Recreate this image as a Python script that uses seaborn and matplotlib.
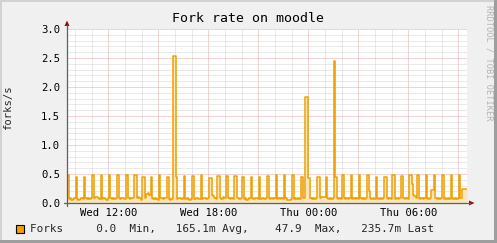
import numpy as np
import pandas as pd
import matplotlib
matplotlib.use("Agg")
import matplotlib.pyplot as plt
import matplotlib.dates as mdates
import matplotlib.ticker as mticker
from matplotlib.patches import Rectangle, Polygon
from matplotlib.lines import Line2D
import seaborn as sns

# ---------------- data ----------------
title = "Fork rate on moodle"
y_label = "forks/s"
series_name = "Forks"
legend_text = "Forks     0.0  Min,   165.1m Avg,    47.9  Max,   235.7m Last"
side_text = "RRDTOOL / TOBI OETIKER"
y_ticks = [0.0, 0.5, 1.0, 1.5, 2.0, 2.5, 3.0]
x_label_hours = [0, 6, 12, 18]
series_start = "2024-01-03 09:32"   # a Wednesday
window_start = "2024-01-03 09:31"
window_end = "2024-01-04 09:31"
sample_step = "5min"

# forks/s, 5-minute samples, one row per half hour
forks_per_s = [
    [0.49, 0.07, 0.08, 0.06, 0.07, 0.08],
    [0.45, 0.07, 0.05, 0.07, 0.08, 0.07],
    [0.45, 0.08, 0.07, 0.08, 0.07, 0.08],
    [0.48, 0.08, 0.10, 0.10, 0.08, 0.07],
    [0.49, 0.07, 0.08, 0.07, 0.06, 0.08],
    [0.48, 0.08, 0.07, 0.08, 0.07, 0.08],
    [0.49, 0.08, 0.07, 0.08, 0.08, 0.07],
    [0.48, 0.48, 0.08, 0.07, 0.08, 0.08],
    [0.48, 0.48, 0.08, 0.10, 0.08, 0.05],
    [0.45, 0.45, 0.08, 0.15, 0.17, 0.13],
    [0.45, 0.08, 0.07, 0.08, 0.07, 0.06],
    [0.49, 0.08, 0.08, 0.07, 0.08, 0.08],
    [0.45, 0.07, 0.05, 0.07, 2.53, 2.53],
    [0.45, 0.07, 0.08, 0.08, 0.07, 0.08],
    [0.47, 0.07, 0.08, 0.07, 0.06, 0.07],
    [0.47, 0.07, 0.07, 0.08, 0.07, 0.07],
    [0.48, 0.07, 0.08, 0.08, 0.07, 0.08],
    [0.43, 0.43, 0.13, 0.12, 0.08, 0.07],
    [0.47, 0.47, 0.08, 0.07, 0.10, 0.08],
    [0.47, 0.47, 0.08, 0.07, 0.08, 0.07],
    [0.47, 0.47, 0.08, 0.08, 0.07, 0.08],
    [0.45, 0.07, 0.08, 0.05, 0.07, 0.08],
    [0.45, 0.08, 0.07, 0.08, 0.08, 0.07],
    [0.45, 0.07, 0.08, 0.08, 0.07, 0.08],
    [0.46, 0.08, 0.07, 0.08, 0.07, 0.08],
    [0.48, 0.07, 0.08, 0.07, 0.08, 0.07],
    [0.48, 0.08, 0.06, 0.05, 0.06, 0.07],
    [0.48, 0.07, 0.08, 0.07, 0.08, 0.07],
    [0.45, 0.45, 0.08, 1.82, 1.82, 0.43],
    [0.43, 0.08, 0.07, 0.08, 0.07, 0.08],
    [0.44, 0.44, 0.08, 0.10, 0.10, 0.10],
    [0.44, 0.08, 0.07, 0.08, 0.07, 0.08],
    [2.45, 0.45, 0.08, 0.07, 0.08, 0.07],
    [0.48, 0.08, 0.07, 0.08, 0.07, 0.08],
    [0.49, 0.07, 0.08, 0.07, 0.08, 0.07],
    [0.49, 0.08, 0.07, 0.08, 0.07, 0.08],
    [0.49, 0.20, 0.08, 0.07, 0.08, 0.07],
    [0.45, 0.08, 0.07, 0.08, 0.07, 0.08],
    [0.45, 0.45, 0.08, 0.07, 0.08, 0.07],
    [0.48, 0.48, 0.07, 0.08, 0.07, 0.08],
    [0.46, 0.46, 0.08, 0.07, 0.08, 0.07],
    [0.48, 0.48, 0.32, 0.14, 0.12, 0.08],
    [0.48, 0.08, 0.07, 0.08, 0.07, 0.08],
    [0.48, 0.08, 0.07, 0.08, 0.22, 0.22],
    [0.48, 0.08, 0.07, 0.08, 0.07, 0.08],
    [0.48, 0.07, 0.08, 0.07, 0.08, 0.07],
    [0.48, 0.08, 0.07, 0.08, 0.07, 0.08],
    [0.48, 0.08, 0.236, 0.236, 0.236, 0.2357],
]

# ---------------- style ----------------
LINE = "#F0A000"
FILL = "#FCE6BC"
BG = "#F0F0F0"
GRID_MAJ = "#E6A8A8"
GRID_MIN = "#D4D4D4"
AXIS = "#606060"
ARROW = "#8B1010"

sns.set_style("white")
plt.rcParams["font.family"] = ["DejaVu Sans Mono"]

W, H = 497, 243
fig = plt.figure(figsize=(W / 100, H / 100), dpi=100, facecolor=BG)


def fx(px):
    return px / W


def fy(py):
    return 1 - py / H


ax = fig.add_axes([fx(67), fy(203), 400 / W, 174 / H])
ax.set_facecolor("white")

vals = np.array(forks_per_s, dtype=float).ravel()
times = pd.date_range(series_start, periods=len(vals), freq=sample_step)
t_ext = times.append(pd.DatetimeIndex([times[-1] + pd.Timedelta(sample_step)]))
v_ext = np.append(vals, vals[-1])
df = pd.DataFrame({"time": t_ext, "forks": v_ext})

ax.fill_between(df["time"], 0, df["forks"], step="post", color=FILL, lw=0, zorder=2)
sns.lineplot(data=df, x="time", y="forks", drawstyle="steps-post", color=LINE,
             linewidth=1.1, estimator=None, ax=ax, zorder=3, legend=False)

ax.set_xlim(pd.Timestamp(window_start), pd.Timestamp(window_end))
ax.set_ylim(y_ticks[0], y_ticks[-1])

# grid
ax.yaxis.set_major_locator(mticker.FixedLocator(y_ticks))
ax.yaxis.set_minor_locator(mticker.MultipleLocator(0.1))
ax.yaxis.set_major_formatter(mticker.FormatStrFormatter("%.1f"))
ax.xaxis.set_major_locator(mdates.HourLocator(byhour=range(0, 24, 3)))
ax.xaxis.set_minor_locator(mdates.HourLocator(interval=1))


def xfmt(v, pos):
    d = mdates.num2date(v)
    if d.hour in x_label_hours and d.minute == 0:
        return d.strftime("%a %H:%M")
    return ""


ax.xaxis.set_major_formatter(mticker.FuncFormatter(xfmt))
ax.grid(which="minor", color=GRID_MIN, linestyle=(0, (1, 1)), linewidth=0.72)
ax.grid(which="major", color=GRID_MAJ, linestyle=(0, (1, 1)), linewidth=0.72)
ax.set_axisbelow(True)
for gl in ax.get_xgridlines() + ax.get_ygridlines():
    gl.set_zorder(1)

ax.tick_params(axis="both", which="both", length=0)
ax.tick_params(axis="y", labelsize=7.6, pad=5, colors="#000000")
ax.tick_params(axis="x", labelsize=7.6, pad=3.6, colors="#000000")
ax.set_xlabel("")
ax.set_ylabel("")
for s in ax.spines.values():
    s.set_visible(False)

# axis lines and arrows (figure pixel space)
fig.add_artist(Line2D([fx(64), fx(470)], [fy(203), fy(203)], color=AXIS, lw=0.9))
fig.add_artist(Line2D([fx(67), fx(67)], [fy(206), fy(25)], color=AXIS, lw=0.9))
fig.add_artist(Polygon([[fx(469), fy(200.5)], [fx(474.5), fy(203)], [fx(469), fy(205.5)]],
                       closed=True, color=ARROW, lw=0))
fig.add_artist(Polygon([[fx(64.5), fy(26)], [fx(67), fy(20.5)], [fx(69.5), fy(26)]],
                       closed=True, color=ARROW, lw=0))

# texts
fig.text(fx(247.5), fy(19), title, ha="center", va="center", fontsize=9.5, color="#000000")
fig.text(fx(8.5), fy(108), y_label, ha="center", va="center", rotation=90, fontsize=7.6)
fig.text(fx(488.5), fy(5), side_text, ha="center", va="top", rotation=270,
         fontsize=6.2, color="#B4B4B4")

# legend
fig.add_artist(Rectangle((fx(15.5), fy(233)), 8 / W, 8.5 / H, facecolor=LINE,
                         edgecolor="#000000", lw=0.8))
fig.text(fx(30), fy(229), legend_text, ha="left", va="center", fontsize=7.9)

# 3D frame
fig.add_artist(Rectangle((0, fy(2)), 1, 2 / H, facecolor="#D2D2D2", lw=0))
fig.add_artist(Rectangle((0, 0), 2 / W, 1, facecolor="#D2D2D2", lw=0))
fig.add_artist(Rectangle((fx(494), 0), 3 / W, 1, facecolor="#9E9E9E", lw=0))
fig.add_artist(Rectangle((0, 0), 1, 3 / H, facecolor="#9E9E9E", lw=0))

fig.savefig("out.png", dpi=100, facecolor=BG)
